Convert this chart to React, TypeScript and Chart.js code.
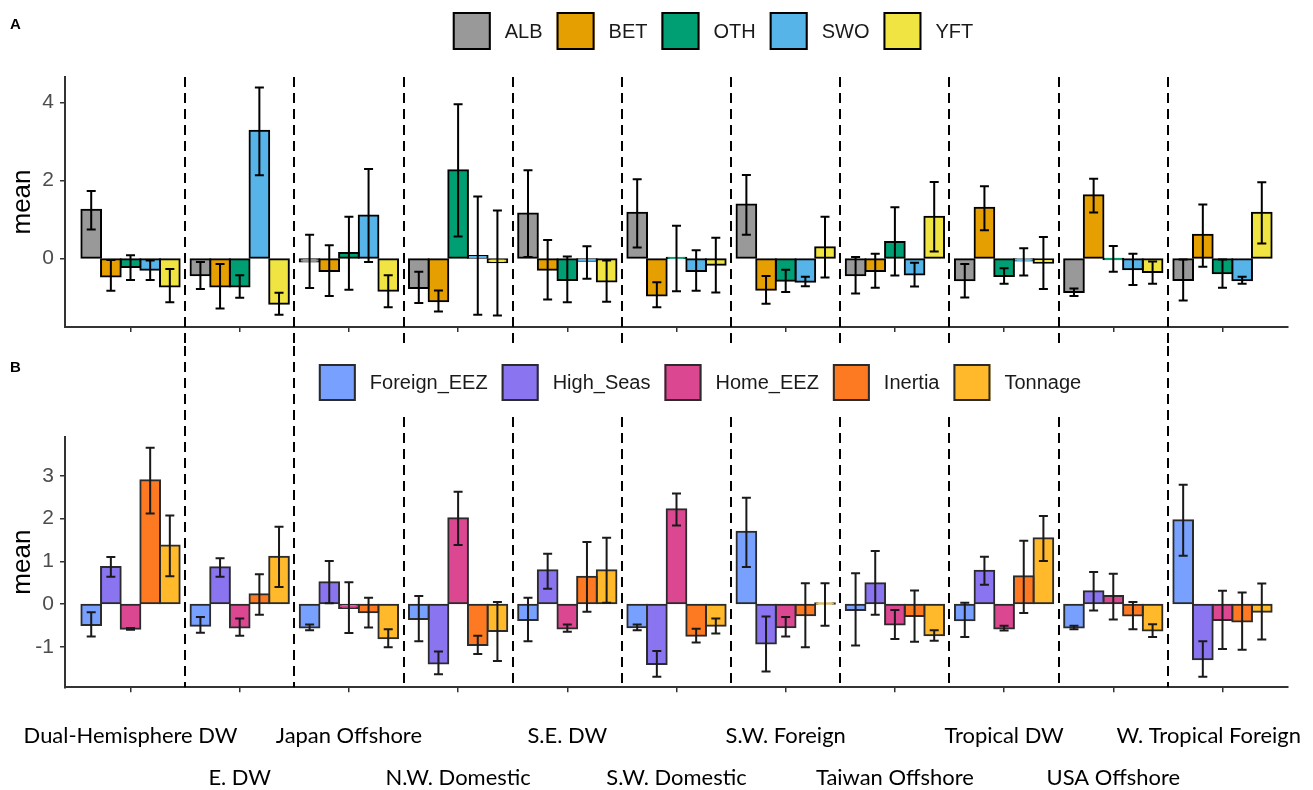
import React, { useEffect, useRef } from 'react';
import { Chart, registerables } from 'chart.js';

Chart.register(...registerables);

// ---------- data ----------
const categories = [
  'Dual-Hemisphere DW', 'E. DW', 'Japan Offshore', 'N.W. Domestic', 'S.E. DW', 'S.W. Domestic',
  'S.W. Foreign', 'Taiwan Offshore', 'Tropical DW', 'USA Offshore', 'W. Tropical Foreign',
];

// Panel A: species
const speciesLabels = ['ALB', 'BET', 'OTH', 'SWO', 'YFT'];
const speciesColors = ['#999999', '#E69F00', '#009E73', '#56B4E9', '#F0E442'];

const albMean = [1.25, -0.43, -0.08, -0.76, 1.15, 1.17, 1.38, -0.43, -0.56, -0.86, -0.55];
const albLow = [0.74, -0.78, -0.76, -1.14, 0.04, 0.28, 0.61, -0.90, -1.00, -0.96, -1.08];
const albHigh = [1.73, -0.09, 0.61, -0.34, 2.26, 2.03, 2.14, 0.04, -0.14, -0.77, -0.03];

const betMean = [-0.46, -0.72, -0.32, -1.10, -0.29, -0.95, -0.80, -0.32, 1.30, 1.62, 0.61];
const betLow = [-0.83, -1.28, -0.96, -1.36, -1.05, -1.25, -1.16, -0.75, 0.72, 1.18, -0.21];
const betHigh = [-0.04, -0.14, 0.34, -0.82, 0.47, -0.61, -0.45, 0.12, 1.85, 2.04, 1.38];

const othMean = [-0.22, -0.72, 0.14, 2.26, -0.55, 0.01, -0.57, 0.42, -0.45, -0.01, -0.38];
const othLow = [-0.55, -1.01, -0.80, 0.56, -1.12, -0.84, -0.86, -0.44, -0.65, -0.34, -0.75];
const othHigh = [0.08, -0.43, 1.07, 3.95, 0.05, 0.84, -0.29, 1.31, -0.25, 0.32, -0.03];

const swoMean = [-0.29, 3.27, 1.10, 0.06, -0.06, -0.32, -0.60, -0.41, -0.05, -0.28, -0.56];
const swoLow = [-0.55, 2.13, -0.09, -1.44, -0.52, -0.83, -0.71, -0.72, -0.44, -0.68, -0.65];
const swoHigh = [-0.05, 4.38, 2.29, 1.59, 0.31, 0.21, -0.47, -0.11, 0.26, 0.12, -0.47];

const yftMean = [-0.72, -1.16, -0.83, -0.10, -0.59, -0.16, 0.29, 1.07, -0.11, -0.35, 1.17];
const yftLow = [-1.12, -1.44, -1.25, -1.46, -1.11, -0.87, -0.49, 0.18, -0.78, -0.65, 0.38];
const yftHigh = [-0.27, -0.88, -0.43, 1.23, -0.05, 0.53, 1.07, 1.96, 0.55, -0.08, 1.95];

// Panel B: drivers
const driverLabels = ['Foreign_EEZ', 'High_Seas', 'Home_EEZ', 'Inertia', 'Tonnage'];
const driverColors = ['#78A0FF', '#8B74F0', '#DC4792', '#FD7A22', '#FFB92A'];

const foreignMean = [-0.49, -0.51, -0.55, -0.35, -0.37, -0.54, 1.69, -0.14, -0.38, -0.55, 1.96];
const foreignLow = [-0.76, -0.67, -0.61, -0.87, -0.87, -0.61, 0.87, -0.97, -0.77, -0.59, 1.13];
const foreignHigh = [-0.19, -0.30, -0.48, 0.19, 0.15, -0.48, 2.49, 0.72, 0.03, -0.51, 2.79];

const highSeasMean = [0.87, 0.86, 0.51, -1.39, 0.79, -1.40, -0.92, 0.49, 0.78, 0.30, -1.29];
const highSeasLow = [0.64, 0.64, 0.02, -1.64, 0.36, -1.70, -1.58, -0.25, 0.45, -0.15, -1.70];
const highSeasHigh = [1.10, 1.07, 1.01, -1.11, 1.18, -1.10, -0.29, 1.24, 1.11, 0.75, -0.87];

const homeMean = [-0.58, -0.55, -0.09, 2.01, -0.57, 2.22, -0.54, -0.48, -0.57, 0.19, -0.37];
const homeLow = [-0.60, -0.74, -0.68, 1.38, -0.65, 1.84, -0.76, -0.82, -0.62, -0.36, -1.05];
const homeHigh = [-0.56, -0.34, 0.51, 2.63, -0.48, 2.59, -0.30, -0.14, -0.51, 0.71, 0.31];

const inertiaMean = [2.90, 0.23, -0.19, -0.96, 0.64, -0.74, -0.26, -0.28, 0.65, -0.27, -0.41];
const inertiaLow = [2.12, -0.25, -0.55, -1.17, -0.18, -0.90, -1.01, -0.88, -0.21, -0.59, -1.07];
const inertiaHigh = [3.66, 0.70, 0.15, -0.74, 1.45, -0.58, 0.49, 0.32, 1.48, 0.05, 0.27];

const tonnageMean = [1.37, 1.11, -0.80, -0.63, 0.79, -0.51, 0.01, -0.73, 1.54, -0.62, -0.18];
const tonnageLow = [0.65, 0.40, -1.01, -1.33, 0.03, -0.69, -0.51, -0.86, 1.01, -0.77, -0.83];
const tonnageHigh = [2.07, 1.81, -0.59, 0.05, 1.55, -0.34, 0.49, -0.61, 2.06, -0.47, 0.48];

const yTicksA = [0, 2, 4];
const yRangeA = [-1.757, 4.65];
const yTicksB = [-1, 0, 1, 2, 3];
const yRangeB = [-1.948, 3.91];

// ---------- layout constants ----------
const W = 1313;
const HA = 346;
const HB = 444;
const SANS = '"Liberation Sans", Arial, sans-serif';

function legendLayout(ctx: CanvasRenderingContext2D, labels: string[], box: number, centerX: number, fontSize: number) {
  ctx.save();
  ctx.font = `${fontSize}px ${SANS}`;
  const gapText = 14;
  const gapItem = 14;
  const widths = labels.map((l) => ctx.measureText(l).width);
  ctx.restore();
  let total = 0;
  widths.forEach((w, i) => {
    total += box + gapText + w + (i < widths.length - 1 ? gapItem : 0);
  });
  let x = centerX - total / 2;
  const items = labels.map((l, i) => {
    const it = { boxX: x, textX: x + box + gapText, label: l };
    x += box + gapText + widths[i] + gapItem;
    return it;
  });
  return { items, left: centerX - total / 2, right: centerX + total / 2 };
}

const decorPlugin = {
  id: 'panelDecor',
  beforeDatasetsDraw(chart: any, _args: any, o: any) {
    const ctx = chart.ctx as CanvasRenderingContext2D;
    const xs = chart.scales.x;
    const area = chart.chartArea;
    let skipL = -1, skipR = -1;
    if (o.mode === 'B') {
      const lay = legendLayout(ctx, o.labels, o.box, o.legendX, o.legendFont);
      skipL = lay.left - 12;
      skipR = lay.right + 12;
    }
    ctx.save();
    ctx.strokeStyle = '#000';
    ctx.lineWidth = 2;
    ctx.setLineDash([10, 6]);
    for (let i = 0; i < categories.length - 1; i++) {
      const x = Math.round(xs.getPixelForValue(i + 0.5));
      ctx.beginPath();
      if (o.mode === 'A') {
        ctx.moveTo(x, area.top);
        ctx.lineTo(x, chart.height);
      } else {
        const inLegend = x >= skipL && x <= skipR;
        ctx.moveTo(x, inLegend ? o.legendY + o.box / 2 + 16 : 0);
        ctx.lineTo(x, area.bottom);
      }
      ctx.stroke();
    }
    ctx.restore();
  },
  afterDatasetsDraw(chart: any, _args: any, o: any) {
    const ctx = chart.ctx as CanvasRenderingContext2D;
    const ys = chart.scales.y;
    ctx.save();
    ctx.strokeStyle = o.errColor;
    ctx.lineWidth = 2;
    const cap = 4.5;
    chart.data.datasets.forEach((ds: any, d: number) => {
      const meta = chart.getDatasetMeta(d);
      meta.data.forEach((el: any, i: number) => {
        const x = el.x;
        const yl = ys.getPixelForValue(ds.errLow[i]);
        const yh = ys.getPixelForValue(ds.errHigh[i]);
        ctx.beginPath();
        ctx.moveTo(x, yl);
        ctx.lineTo(x, yh);
        ctx.moveTo(x - cap, yl);
        ctx.lineTo(x + cap, yl);
        ctx.moveTo(x - cap, yh);
        ctx.lineTo(x + cap, yh);
        ctx.stroke();
      });
    });
    ctx.restore();
  },
  afterDraw(chart: any, _args: any, o: any) {
    const ctx = chart.ctx as CanvasRenderingContext2D;
    const area = chart.chartArea;
    ctx.save();
    // panel letter
    ctx.fillStyle = '#000';
    ctx.font = `bold 15px ${SANS}`;
    ctx.textAlign = 'left';
    ctx.textBaseline = 'middle';
    ctx.fillText(o.letter, o.letterX, o.letterY);
    // y title
    ctx.save();
    ctx.translate(23, (area.top + area.bottom) / 2);
    ctx.rotate(-Math.PI / 2);
    ctx.font = `26px ${SANS}`;
    ctx.textAlign = 'center';
    ctx.textBaseline = 'middle';
    ctx.fillStyle = '#000';
    ctx.fillText('mean', 0, 0);
    ctx.restore();
    // legend
    const lay = legendLayout(ctx, o.labels, o.box, o.legendX, o.legendFont);
    ctx.font = `${o.legendFont}px ${SANS}`;
    ctx.textBaseline = 'middle';
    lay.items.forEach((it, i) => {
      ctx.fillStyle = o.colors[i];
      ctx.fillRect(it.boxX, o.legendY - o.box / 2, o.box, o.box);
      ctx.strokeStyle = o.barBorder;
      ctx.lineWidth = 2;
      ctx.strokeRect(it.boxX + 1, o.legendY - o.box / 2 + 1, o.box - 2, o.box - 2);
      ctx.fillStyle = '#1a1a1a';
      ctx.fillText(it.label, it.textX, o.legendY + 1);
    });
    // category labels (panel B only)
    if (o.xLabels) {
      const xs = chart.scales.x;
      ctx.font = `100px Lato, ${SANS}`;
      const ref = ctx.measureText(categories[0]).width;
      const size = (100 * 214) / ref;
      ctx.font = `${size}px Lato, ${SANS}`;
      ctx.fillStyle = '#000';
      ctx.textBaseline = 'middle';
      ctx.textAlign = 'left';
      categories.forEach((c, i) => {
        const w = ctx.measureText(c).width;
        let x = xs.getPixelForValue(i) - w / 2;
        x = Math.max(10, Math.min(W - 12 - w, x));
        const y = area.bottom + (i % 2 === 0 ? 49 : 91);
        ctx.fillText(c, x, y);
      });
    }
    ctx.restore();
  },
};

function makeConfig(p: any) {
  const datasets = p.means.map((m: number[], k: number) => ({
    label: p.labels[k],
    data: m.map((v, i) => ({ x: i, y: v })),
    errLow: p.lows[k],
    errHigh: p.highs[k],
    backgroundColor: p.colors[k],
    borderColor: p.barBorder,
    borderWidth: 2,
    borderSkipped: false,
    inflateAmount: 1,
    categoryPercentage: 0.9,
    barPercentage: 1.0,
  }));
  return {
    type: 'bar',
    data: { datasets },
    options: {
      responsive: false,
      animation: false,
      events: [],
      layout: { padding: { top: p.padTop, bottom: p.padBottom, left: 0, right: 25 } },
      plugins: {
        legend: { display: false },
        tooltip: { enabled: false },
        panelDecor: p.decor,
      },
      scales: {
        x: {
          type: 'linear',
          min: -0.6,
          max: categories.length - 0.4,
          offset: false,
          afterBuildTicks: (ax: any) => {
            ax.ticks = categories.map((_, i) => ({ value: i }));
          },
          ticks: { display: false },
          grid: { display: true, offset: false, drawOnChartArea: false, drawTicks: true, tickLength: 5, color: '#333', lineWidth: 1.5 },
          border: { display: true, color: '#333', width: 2 },
        },
        y: {
          type: 'linear',
          min: p.yRange[0],
          max: p.yRange[1],
          afterBuildTicks: (ax: any) => {
            ax.ticks = p.yTicks.map((v: number) => ({ value: v }));
          },
          afterFit: (ax: any) => {
            ax.width = 65;
          },
          ticks: {
            font: { family: SANS, size: 21 },
            color: '#4D4D4D',
            padding: 6,
            callback: (v: any) => String(v),
          },
          grid: { display: true, drawOnChartArea: false, drawTicks: true, tickLength: 5, color: '#333', lineWidth: 1.5 },
          border: { display: true, color: '#333', width: 2 },
        },
      },
    },
    plugins: [decorPlugin],
  };
}

export default function App() {
  const refA = useRef<HTMLCanvasElement>(null);
  const refB = useRef<HTMLCanvasElement>(null);

  useEffect(() => {
    const cfgA = makeConfig({
      means: [albMean, betMean, othMean, swoMean, yftMean],
      lows: [albLow, betLow, othLow, swoLow, yftLow],
      highs: [albHigh, betHigh, othHigh, swoHigh, yftHigh],
      labels: speciesLabels,
      colors: speciesColors,
      barBorder: '#000',
      yTicks: yTicksA,
      yRange: yRangeA,
      padTop: 77,
      padBottom: 14,
      decor: {
        mode: 'A', letter: 'A', letterX: 10, letterY: 25,
        labels: speciesLabels, colors: speciesColors, barBorder: '#000',
        box: 38, legendX: 713, legendY: 31, legendFont: 20, errColor: '#000', xLabels: false,
      },
    });
    const cfgB = makeConfig({
      means: [foreignMean, highSeasMean, homeMean, inertiaMean, tonnageMean],
      lows: [foreignLow, highSeasLow, homeLow, inertiaLow, tonnageLow],
      highs: [foreignHigh, highSeasHigh, homeHigh, inertiaHigh, tonnageHigh],
      labels: driverLabels,
      colors: driverColors,
      barBorder: '#2b2b2b',
      yTicks: yTicksB,
      yRange: yRangeB,
      padTop: 91,
      padBottom: 97.7,
      decor: {
        mode: 'B', letter: 'B', letterX: 10, letterY: 22,
        labels: driverLabels, colors: driverColors, barBorder: '#2b2b2b',
        box: 37, legendX: 700, legendY: 36.5, legendFont: 20, errColor: '#1a1a1a', xLabels: true,
      },
    });
    const a = new Chart(refA.current as HTMLCanvasElement, cfgA as any);
    const b = new Chart(refB.current as HTMLCanvasElement, cfgB as any);
    return () => {
      a.destroy();
      b.destroy();
    };
  }, []);

  return (
    <div style={{ position: 'absolute', left: 0, top: 0, width: W, height: 790, background: '#fff' }}>
      <canvas ref={refA} width={W} height={HA} style={{ display: 'block', width: W, height: HA }} />
      <canvas ref={refB} width={W} height={HB} style={{ display: 'block', width: W, height: HB }} />
    </div>
  );
}
